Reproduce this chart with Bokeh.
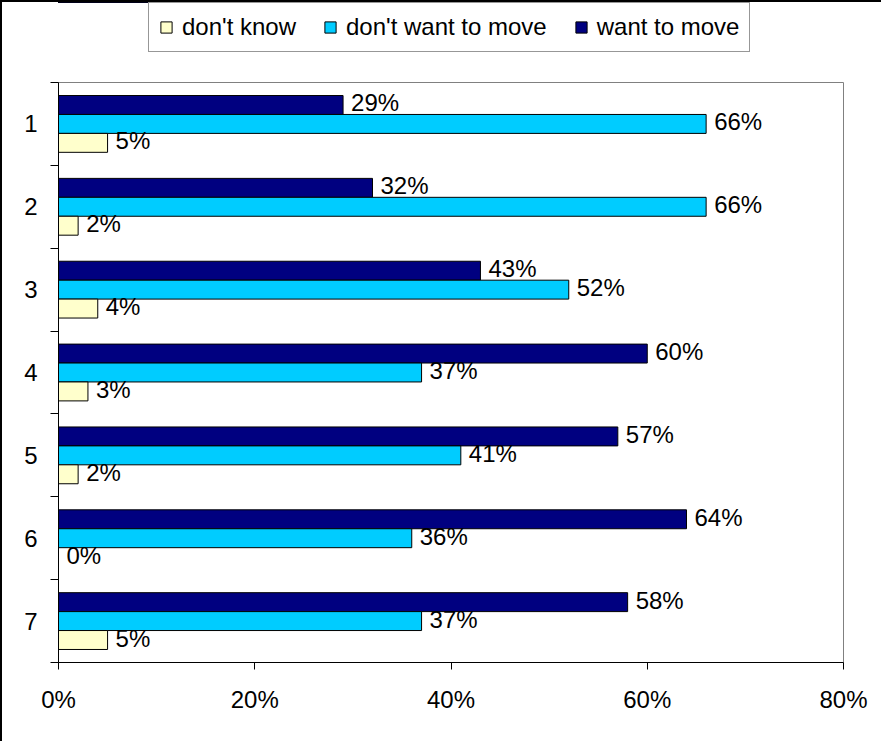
from bokeh.plotting import figure
from bokeh.layouts import column
from bokeh.models import Range1d, FixedTicker, Legend, LegendItem, ColumnDataSource
from bokeh.transform import dodge
from bokeh.core.properties import value
from bokeh.embed import file_html
from bokeh.resources import INLINE

# ---- data ----
categories = ["1", "2", "3", "4", "5", "6", "7"]
want_to_move = [29, 32, 43, 60, 57, 64, 58]
dont_want_to_move = [66, 66, 52, 37, 41, 36, 37]
dont_know = [5, 2, 4, 3, 2, 0, 5]
series_names = ["don't know", "don't want to move", "want to move"]
x_ticks = [0, 20, 40, 60, 80]
x_tick_labels = ["0%", "20%", "40%", "60%", "80%"]

FONT = "Liberation Sans"
C_WANT = "#000080"
C_DWANT = "#00CCFF"
C_DK = "#FFFFCC"
series_cols = ["dk", "dwant", "want"]
series_colors = [C_DK, C_DWANT, C_WANT]

ypos = list(range(1, len(categories) + 1))
src = ColumnDataSource(dict(
    y=ypos,
    want=want_to_move,
    dwant=dont_want_to_move,
    dk=dont_know,
    want_lbl=[f"{v}%" for v in want_to_move],
    dwant_lbl=[f"{v}%" for v in dont_want_to_move],
    dk_lbl=[f"{v}%" for v in dont_know],
))

W = 879
LEG_H = 76
BH = 0.2285

# ---------- legend strip (its own bars fall outside its view; only the legend shows) ----------
lg = figure(width=W, height=LEG_H, output_backend="svg", toolbar_location=None,
            x_axis_type=None, y_axis_type=None, x_range=Range1d(0, 80), y_range=Range1d(-1, 0),
            min_border_left=0, min_border_right=0, min_border_top=0, min_border_bottom=0)
lg.xgrid.visible = False
lg.ygrid.visible = False
lg.outline_line_color = None
lg.background_fill_color = "white"
lg.border_fill_color = "white"
leg_renderers = [lg.hbar(y='y', left=0, right=c, height=BH, source=src,
                         fill_color=col, line_color="black", line_width=1)
                 for c, col in zip(series_cols, series_colors)]
legend = Legend(items=[LegendItem(label=n, renderers=[r]) for n, r in zip(series_names, leg_renderers)],
                orientation="horizontal", location=(90, 26),
                glyph_width=14, glyph_height=14, label_standoff=9, spacing=27,
                padding=10, margin=0,
                label_text_font=FONT, label_text_font_size="24px", label_text_color="black",
                border_line_color="#303030", border_line_width=1,
                background_fill_color="white", background_fill_alpha=1.0)
lg.add_layout(legend)

# ---------- main chart ----------
p = figure(width=W, height=739 - LEG_H, output_backend="svg", toolbar_location=None,
           x_range=Range1d(0, 80), y_range=Range1d(len(categories) + 0.5, 0.5),
           min_border_left=56, min_border_right=38, min_border_top=4, min_border_bottom=79)

p.xgrid.visible = False
p.ygrid.visible = False
p.outline_line_color = "#808080"
p.outline_line_width = 1
p.background_fill_color = "white"
p.border_fill_color = "white"

p.hbar(y=dodge('y', -BH, range=p.y_range), left=0, right='want', height=BH, source=src,
       fill_color=C_WANT, line_color="black", line_width=1)
p.hbar(y=dodge('y', 0, range=p.y_range), left=0, right='dwant', height=BH, source=src,
       fill_color=C_DWANT, line_color="black", line_width=1)
p.hbar(y=dodge('y', BH, range=p.y_range), left=0, right='dk', height=BH, source=src,
       fill_color=C_DK, line_color="black", line_width=1)

for col, off in (("want", -BH), ("dwant", 0), ("dk", BH)):
    p.text(x=col, y=dodge('y', off, range=p.y_range), text=col + "_lbl", source=src,
           x_offset=8, y_offset=-2, text_baseline="middle", text_align="left",
           text_font=value(FONT), text_font_size="24px", text_color="black")

# x axis
xa = p.xaxis[0]
xa.ticker = FixedTicker(ticks=x_ticks, minor_ticks=[])
xa.major_label_overrides = {t: l for t, l in zip(x_ticks, x_tick_labels)}
xa.major_tick_out = 7
xa.major_tick_in = 0
xa.minor_tick_out = 0
xa.minor_tick_in = 0
xa.axis_line_color = "black"
xa.major_tick_line_color = "black"
xa.major_label_text_font = FONT
xa.major_label_text_font_size = "24px"
xa.major_label_text_color = "black"
xa.major_label_standoff = 16

# y axis
ya = p.yaxis[0]
ya.ticker = FixedTicker(ticks=ypos, minor_ticks=[y - 0.5 for y in ypos] + [ypos[-1] + 0.5])
ya.major_label_overrides = {y: c for y, c in zip(ypos, categories)}
ya.major_tick_out = 0
ya.major_tick_in = 0
ya.minor_tick_out = 8
ya.minor_tick_in = 0
ya.minor_tick_line_color = "black"
ya.axis_line_color = "black"
ya.major_label_text_font = FONT
ya.major_label_text_font_size = "24px"
ya.major_label_text_color = "black"
ya.major_label_standoff = 13

layout = column(lg, p, spacing=0)
layout.styles = {"border-top": "2px solid black", "border-left": "2px solid black"}

open("out.html", "w").write(file_html(layout, INLINE))
